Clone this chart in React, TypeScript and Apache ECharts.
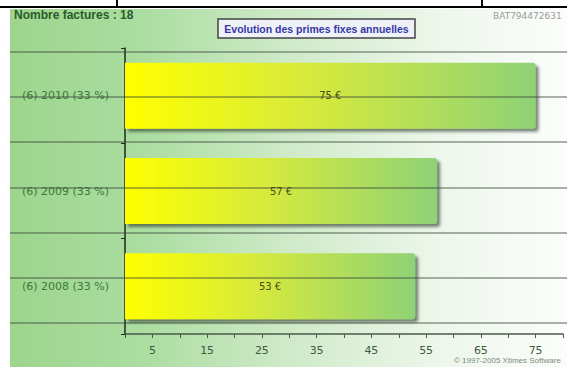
import React, { useEffect, useRef } from "react";
import * as echarts from "echarts";

const categories = ["(6) 2008 (33 %)", "(6) 2009 (33 %)", "(6) 2010 (33 %)"];
const values = [53, 57, 75];
const valueLabels = ["53 €", "57 €", "75 €"];
const guideLinesY = [52, 97, 142, 188, 233, 278, 323];
const titleText = "Evolution des primes fixes annuelles";
const headerText = "Nombre factures : 18";
const refText = "BAT794472631";
const copyrightText = "© 1997-2005 Xtimes Software";

export default function App() {
  const ref = useRef<HTMLDivElement>(null);
  useEffect(() => {
    if (!ref.current) return;
    const chart = echarts.init(ref.current, null, { renderer: "svg" });
    const graphics: any[] = [
      {
        type: "rect",
        z: -10,
        shape: { x: 10, y: 9, width: 557, height: 358 },
        style: {
          fill: new echarts.graphic.LinearGradient(0, 0, 1, 0, [
            { offset: 0, color: "#9dd58d" },
            { offset: 0.22, color: "#a9dc9e" },
            { offset: 0.5, color: "#cfeac8" },
            { offset: 0.78, color: "#eef7ec" },
            { offset: 1, color: "#fbfdfb" },
          ]),
        },
      },
      { type: "line", z: 50, shape: { x1: 0, y1: 7, x2: 567, y2: 7 }, style: { stroke: "#000", lineWidth: 2 } },
      { type: "line", z: 50, shape: { x1: 117, y1: 0, x2: 117, y2: 7 }, style: { stroke: "#000", lineWidth: 2 } },
      { type: "line", z: 50, shape: { x1: 482, y1: 0, x2: 482, y2: 7 }, style: { stroke: "#000", lineWidth: 2 } },
      ...guideLinesY.map((y) => ({
        type: "line",
        z: 100,
        shape: { x1: 10, y1: y, x2: 567, y2: y },
        style: { stroke: "#3c4a3c", lineWidth: 1, opacity: 0.85 },
      })),
      {
        type: "text",
        z: 60,
        x: 14,
        y: 9,
        style: { text: headerText, fill: "#2b5a2b", font: "bold 12px 'Liberation Sans'" },
      },
      {
        type: "text",
        z: 60,
        x: 493,
        y: 11,
        style: { text: refText, fill: "#9a9a9a", font: "9px 'DejaVu Sans'" },
      },
      {
        type: "rect",
        z: 60,
        shape: { x: 218, y: 19, width: 197, height: 19 },
        style: { fill: "#eef2f6", stroke: "#444", lineWidth: 1.5 },
      },
      {
        type: "text",
        z: 61,
        x: 316.5,
        y: 28.5,
        style: {
          text: titleText,
          fill: "#3636a8",
          font: "bold 10.5px 'Liberation Sans'",
          align: "center",
          verticalAlign: "middle",
        },
      },
      {
        type: "text",
        z: 60,
        x: 454,
        y: 356,
        style: { text: copyrightText, fill: "#7a8a7a", font: "8px 'Liberation Sans'" },
      },
    ];
    chart.setOption({
      animation: false,
      backgroundColor: "#ffffff",
      grid: { left: 125, right: 4, top: 48, bottom: 33 },
      xAxis: {
        type: "value",
        min: 0,
        max: 80,
        interval: 5,
        axisLine: { show: true, lineStyle: { color: "#4a5a4a", width: 1.5 } },
        axisTick: { show: true, length: 4, lineStyle: { color: "#4a5a4a" } },
        splitLine: { show: false },
        axisLabel: {
          margin: 11,
          color: "#3d5a3d",
          fontSize: 11,
          fontFamily: "DejaVu Sans",
          formatter: (v: number) => (v % 10 === 5 ? String(v) : ""),
        },
      },
      yAxis: {
        type: "category",
        data: categories,
        axisLine: { show: true, lineStyle: { color: "#1e2a1e", width: 1.5 } },
        axisTick: { show: true, length: 4, lineStyle: { color: "#1e2a1e" } },
        splitLine: { show: false },
        axisLabel: {
          align: "left",
          margin: 103,
          color: "#3a7a3a",
          fontSize: 11,
          fontFamily: "DejaVu Sans",
        },
      },
      series: [
        {
          type: "bar",
          data: values,
          barWidth: 66,
          itemStyle: {
            color: new echarts.graphic.LinearGradient(0, 0, 1, 0, [
              { offset: 0, color: "#ffff00" },
              { offset: 0.45, color: "#d6ea3c" },
              { offset: 1, color: "#8fd276" },
            ]),
            borderRadius: [0, 3, 3, 0],
            shadowColor: "rgba(40,50,40,0.6)",
            shadowOffsetX: 3,
            shadowOffsetY: 3,
            shadowBlur: 3,
          },
          label: {
            show: true,
            position: "inside",
            color: "#4a4a10",
            fontSize: 10,
            fontFamily: "DejaVu Sans",
            formatter: (p: any) => valueLabels[p.dataIndex],
          },
        },
      ],
      graphic: graphics,
    });
    return () => chart.dispose();
  }, []);
  return (
    <div
      ref={ref}
      style={{ position: "fixed", left: 0, top: 0, width: 567, height: 367 }}
    />
  );
}
